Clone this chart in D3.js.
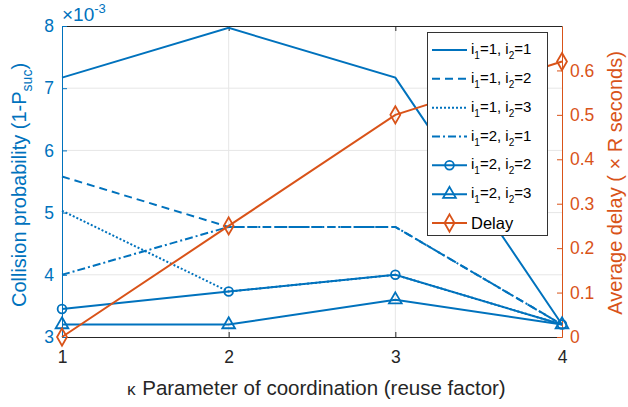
<!DOCTYPE html>
<html>
<head>
<meta charset="utf-8">
<script src="https://cdn.jsdelivr.net/npm/d3@7"></script>
<style>
  body { margin: 0; background: #fff; }
  svg { font-family: "Liberation Sans", Arial, sans-serif; }
</style>
</head>
<body>
<svg id="chart"></svg>
<script>
// data
var kValues = [1, 2, 3, 4];
var col11 = [7.17, 7.97, 7.17, 3.2];   // i1=1, i2=1
var col12 = [5.58, 4.77, 4.77, 3.2];   // i1=1, i2=2
var col13 = [5.03, 3.73, 4.0, 3.2];    // i1=1, i2=3
var col21 = [4.0, 4.77, 4.77, 3.2];    // i1=2, i2=1
var col22 = [3.45, 3.73, 4.0, 3.2];    // i1=2, i2=2
var col23 = [3.2, 3.2, 3.6, 3.2];      // i1=2, i2=3
var delay = [0, 0.25, 0.5, 0.62];
var leftTicks = [3, 4, 5, 6, 7, 8];
var rightTicks = [0, 0.1, 0.2, 0.3, 0.4, 0.5, 0.6];

var W = 628, H = 407;
var blue = '#0072BD', orange = '#D95319', dark = '#262626';

var svg = d3.select('#chart').attr('width', W).attr('height', H);

var pLeft = 62, pRight = 562, pTop = 26, pBottom = 337;

var x = d3.scaleLinear().domain([1, 4]).range([pLeft, pRight]);
var yL = d3.scaleLinear().domain([3, 8]).range([pBottom, pTop]);
var yR = d3.scaleLinear().domain([0, 0.7]).range([pBottom, pTop]);

// grid
var grid = svg.append('g').attr('stroke', '#e6e6e6').attr('stroke-width', 1);
grid.selectAll('.gx').data([2, 3]).enter().append('line')
  .attr('x1', function (d) { return x(d); }).attr('x2', function (d) { return x(d); })
  .attr('y1', pTop).attr('y2', pBottom);
grid.selectAll('.gy').data([4, 5, 6, 7]).enter().append('line')
  .attr('x1', pLeft).attr('x2', pRight)
  .attr('y1', function (d) { return yL(d); }).attr('y2', function (d) { return yL(d); });

// axes
var axB = svg.append('g').attr('transform', 'translate(0,' + pBottom + ')')
  .call(d3.axisBottom(x).tickValues(kValues).tickSize(-5).tickSizeOuter(0).tickPadding(14).tickFormat(d3.format('d')));
var axT = svg.append('g').attr('transform', 'translate(0,' + pTop + ')')
  .call(d3.axisTop(x).tickValues([2, 3]).tickSize(-5).tickSizeOuter(0).tickFormat(''));
var axL = svg.append('g').attr('transform', 'translate(' + pLeft + ',0)')
  .call(d3.axisLeft(yL).tickValues(leftTicks).tickSize(-5).tickSizeOuter(0).tickPadding(8).tickFormat(d3.format('d')));
var axR = svg.append('g').attr('transform', 'translate(' + pRight + ',0)')
  .call(d3.axisRight(yR).tickValues(rightTicks).tickSize(-5).tickSizeOuter(0).tickPadding(8)
    .tickFormat(function (d) { return d === 0 ? '0' : d3.format('.1f')(d); }));

[axB, axT].forEach(function (a) {
  a.select('.domain').attr('stroke', dark).attr('stroke-width', 1);
  a.selectAll('.tick line').attr('stroke', dark);
  a.selectAll('.tick text').attr('fill', dark).style('font-size', '17.5px');
});
axL.select('.domain').attr('stroke', blue);
axL.selectAll('.tick line').attr('stroke', blue);
axL.selectAll('.tick text').attr('fill', blue).style('font-size', '17.5px');
axR.select('.domain').attr('stroke', orange);
axR.selectAll('.tick line').attr('stroke', orange);
axR.selectAll('.tick text').attr('fill', orange).style('font-size', '17.5px');

// series
var series = [
  { name: ['1', '1'], v: col11, dash: null, marker: null },
  { name: ['1', '2'], v: col12, dash: '8,5', marker: null },
  { name: ['1', '3'], v: col13, dash: '2,2', marker: null },
  { name: ['2', '1'], v: col21, dash: '8,3,2,3', marker: null },
  { name: ['2', '2'], v: col22, dash: null, marker: 'circle' },
  { name: ['2', '3'], v: col23, dash: null, marker: 'triangle' }
];

var lineL = d3.line().x(function (d, i) { return x(kValues[i]); }).y(function (d) { return yL(d); });
var lineR = d3.line().x(function (d, i) { return x(kValues[i]); }).y(function (d) { return yR(d); });

var sym = {
  circle: d3.symbol().type(d3.symbolCircle).size(60),
  triangle: d3.symbol().type(d3.symbolTriangle).size(70),
  diamond: d3.symbol().type(d3.symbolDiamond).size(85)
};

var plot = svg.append('g');
series.forEach(function (s) {
  plot.append('path').attr('d', lineL(s.v)).attr('fill', 'none')
    .attr('stroke', blue).attr('stroke-width', 2)
    .attr('stroke-dasharray', s.dash);
  if (s.marker) {
    plot.selectAll(null).data(s.v).enter().append('path')
      .attr('d', sym[s.marker])
      .attr('transform', function (d, i) { return 'translate(' + x(kValues[i]) + ',' + yL(d) + ')'; })
      .attr('fill', 'none').attr('stroke', blue).attr('stroke-width', 1.8);
  }
});
plot.append('path').attr('d', lineR(delay)).attr('fill', 'none')
  .attr('stroke', orange).attr('stroke-width', 2);
plot.selectAll(null).data(delay).enter().append('path')
  .attr('d', sym.diamond)
  .attr('transform', function (d, i) { return 'translate(' + x(kValues[i]) + ',' + yR(d) + ')'; })
  .attr('fill', 'none').attr('stroke', orange).attr('stroke-width', 1.8);

// exponent
var ex = svg.append('text').attr('x', pLeft).attr('y', 21).attr('fill', blue).style('font-size', '19px');
ex.append('tspan').text('\u00d710');
ex.append('tspan').attr('dy', -8).style('font-size', '13px').text('-3');

// axis labels
var xl = svg.append('text').attr('x', 316).attr('y', 395).attr('text-anchor', 'middle')
  .attr('fill', dark).style('font-size', '20.5px');
xl.append('tspan').style('font-family', '"Liberation Mono", monospace').style('font-size', '17px').text('\u03ba');
xl.append('tspan').text(' Parameter of coordination (reuse factor)');

var yl = svg.append('text').attr('transform', 'translate(26,185) rotate(-90)')
  .attr('text-anchor', 'middle').attr('fill', blue).style('font-size', '20px');
yl.append('tspan').text('Collision probability (1-P');
yl.append('tspan').attr('dy', 6).style('font-size', '14px').text('suc');
yl.append('tspan').attr('dy', -6).text(')');

svg.append('text').attr('transform', 'translate(622,183) rotate(-90)')
  .attr('text-anchor', 'middle').attr('fill', orange).style('font-size', '20px')
  .text('Average delay ( \u00d7 R seconds)');

// legend
var lg = svg.append('g');
lg.append('rect').attr('x', 427.5).attr('y', 32.5).attr('width', 120).attr('height', 203)
  .attr('fill', '#fff').attr('stroke', '#333').attr('stroke-width', 1);
var legendItems = series.map(function (s) { return { label: s.name, dash: s.dash, marker: s.marker, color: blue }; });
legendItems.push({ label: null, dash: null, marker: 'diamond', color: orange });
var rowY = d3.scaleLinear().domain([0, 6]).range([50, 223]);
legendItems.forEach(function (it, i) {
  var cy = rowY(i);
  lg.append('line').attr('x1', 432).attr('x2', 467).attr('y1', cy).attr('y2', cy)
    .attr('stroke', it.color).attr('stroke-width', 2).attr('stroke-dasharray', it.dash);
  if (it.marker) {
    lg.append('path').attr('d', sym[it.marker]).attr('transform', 'translate(449.5,' + cy + ')')
      .attr('fill', 'none').attr('stroke', it.color).attr('stroke-width', 1.8);
  }
  var t = lg.append('text').attr('x', 471).attr('y', cy + 4).attr('fill', '#000').style('font-size', '15px');
  if (it.label) {
    t.append('tspan').text('i');
    t.append('tspan').attr('dy', 5).style('font-size', '10px').text('1');
    t.append('tspan').attr('dy', -5).text('=' + it.label[0] + ', i');
    t.append('tspan').attr('dy', 5).style('font-size', '10px').text('2');
    t.append('tspan').attr('dy', -5).text('=' + it.label[1]);
  } else {
    t.attr('y', cy + 6).style('font-size', '16.5px').text('Delay');
  }
});
</script>
</body>
</html>
